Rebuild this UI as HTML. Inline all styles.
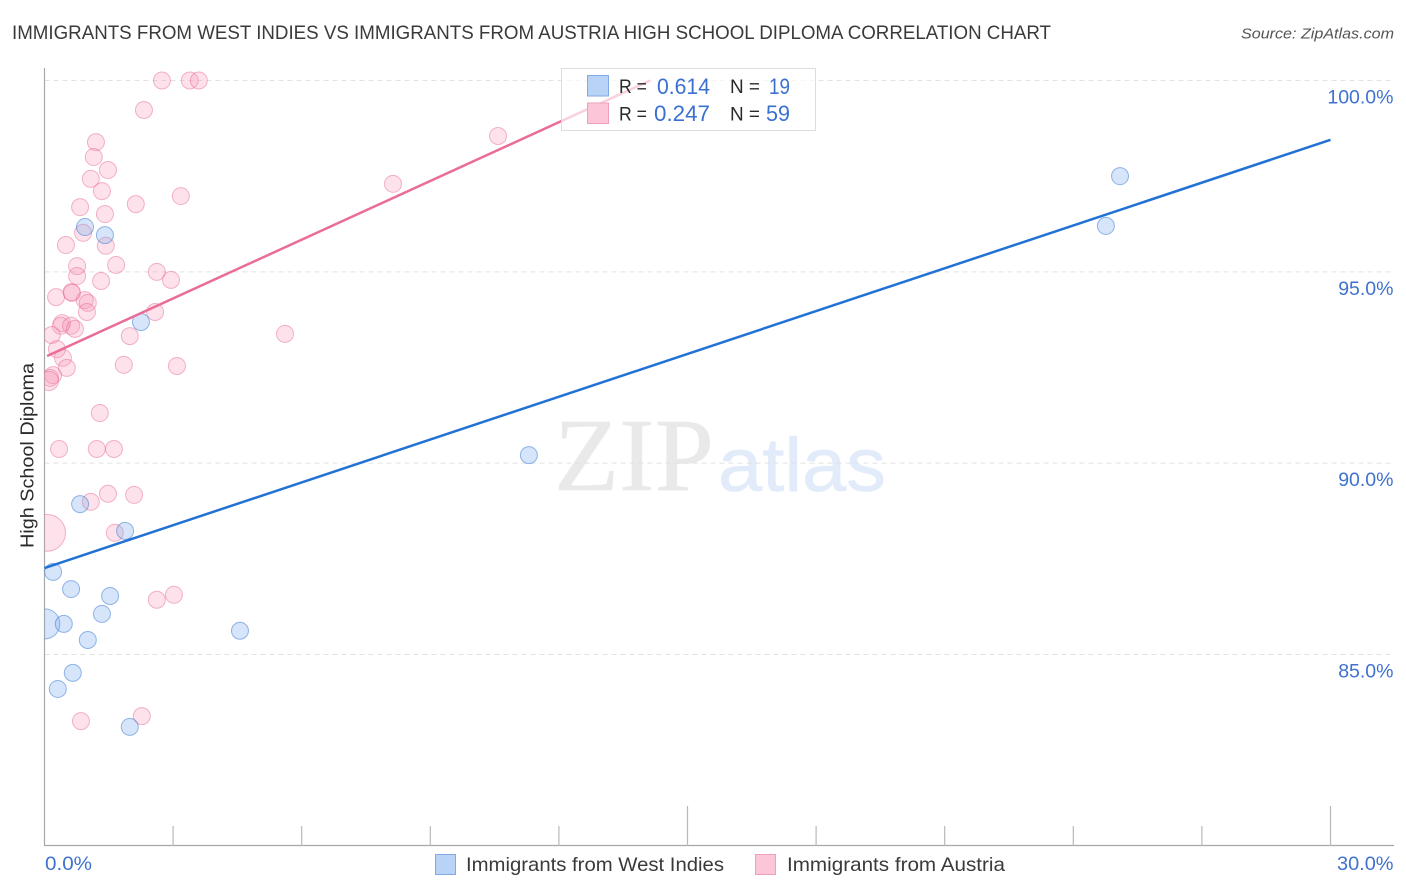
<!DOCTYPE html>
<html lang="en">
<head>
<meta charset="utf-8">
<title>Immigrants from West Indies vs Immigrants from Austria High School Diploma Correlation Chart</title>
<style>
html,body{margin:0;padding:0;background:#fff;width:1406px;height:892px;overflow:hidden}
svg{display:block}
text{font-family:"Liberation Sans",sans-serif}
</style>
</head>
<body>
<svg id="chart" width="1406" height="892" viewBox="0 0 1406 892" xmlns="http://www.w3.org/2000/svg">
  <defs>
    <clipPath id="plot-clip"><rect x="44.5" y="60" width="1350" height="786"></rect></clipPath>
  </defs>
  <rect x="0" y="0" width="1406" height="892" fill="#ffffff"></rect>
  <text x="12" y="39" font-size="19" fill="#3a3a3a" textLength="1039" lengthAdjust="spacingAndGlyphs">IMMIGRANTS FROM WEST INDIES VS IMMIGRANTS FROM AUSTRIA HIGH SCHOOL DIPLOMA CORRELATION CHART</text>
  <text x="1241" y="38.5" font-size="15" font-style="italic" fill="#555555" textLength="153" lengthAdjust="spacingAndGlyphs">Source: ZipAtlas.com</text>

  <g>
    <text x="554" y="490" font-size="104" fill="#e9e9e9" stroke="#e9e9e9" stroke-width="0.5" textLength="160" lengthAdjust="spacingAndGlyphs" style="font-family:'Liberation Serif',serif">ZIP</text>
    <text x="718" y="491" font-size="76" fill="#e2ebfa" stroke="#e2ebfa" stroke-width="0.6" textLength="168" lengthAdjust="spacingAndGlyphs">atlas</text>
  </g>

  <g id="grid"></g>
  <g id="axes"></g>
  <g id="points" clip-path="url(#plot-clip)"></g>
  <g id="trends"></g>
  <g id="tick-labels"></g>

  <text transform="translate(33.5,548) rotate(-90)" font-size="18.5" fill="#2a2a2a" textLength="185" lengthAdjust="spacingAndGlyphs">High School Diploma</text>

  <g>
    <rect x="561.5" y="68.5" width="254" height="62" fill="#ffffff" fill-opacity="0.68" stroke="#dddddd" stroke-width="1"></rect>
    <rect x="587.5" y="75.5" width="21" height="20.5" fill="#b9d3f6" stroke="#82aae6" stroke-width="1"></rect>
    <rect x="587.5" y="103" width="21" height="20.5" fill="#fcc6d8" stroke="#f2a0ba" stroke-width="1"></rect>
    <text x="619" y="93" font-size="19" fill="#2a2a2a" textLength="28" lengthAdjust="spacingAndGlyphs">R =</text>
    <text x="657" y="94" font-size="22" fill="#3a70cf" textLength="53" lengthAdjust="spacingAndGlyphs">0.614</text>
    <text x="730" y="93" font-size="19" fill="#2a2a2a" textLength="30" lengthAdjust="spacingAndGlyphs">N =</text>
    <text x="769" y="94" font-size="22" fill="#3a70cf" textLength="21" lengthAdjust="spacingAndGlyphs">19</text>
    <text x="619" y="120.5" font-size="19" fill="#2a2a2a" textLength="28" lengthAdjust="spacingAndGlyphs">R =</text>
    <text x="654" y="121" font-size="22" fill="#3a70cf" textLength="56" lengthAdjust="spacingAndGlyphs">0.247</text>
    <text x="730" y="120.5" font-size="19" fill="#2a2a2a" textLength="30" lengthAdjust="spacingAndGlyphs">N =</text>
    <text x="766" y="121" font-size="22" fill="#3a70cf" textLength="24" lengthAdjust="spacingAndGlyphs">59</text>
  </g>

  <g>
    <rect x="435.5" y="854.5" width="20" height="20" fill="#b9d3f6" stroke="#82aae6" stroke-width="1"></rect>
    <text x="466" y="871" font-size="19.5" fill="#3a3a3a" textLength="258" lengthAdjust="spacingAndGlyphs">Immigrants from West Indies</text>
    <rect x="755.5" y="854.5" width="20" height="20" fill="#fcc6d8" stroke="#f2a0ba" stroke-width="1"></rect>
    <text x="787" y="871" font-size="19.5" fill="#3a3a3a" textLength="218" lengthAdjust="spacingAndGlyphs">Immigrants from Austria</text>
  </g>
</svg>

<script>
const westIndiesX = [25.09,24.76,11.30,2.25,0.945,1.41,0.83,1.88,0.20,0.62,1.53,1.34,0.01,0.45,1.01,4.56,0.66,0.31,1.99];
const westIndiesY = [97.50,96.20,90.21,93.69,96.17,95.96,88.93,88.23,87.16,86.71,86.53,86.06,85.80,85.80,85.38,85.62,84.52,84.10,83.11];
const westIndiesLargeSamples = {12: 3.1};

const austriaX = [2.74,3.39,3.60,2.32,1.20,1.15,1.48,1.08,1.34,3.18,2.13,0.83,1.41,0.90,0.50,1.43,1.67,0.76,0.76,2.62,2.95,1.32,0.63,0.64,0.27,0.94,1.01,0.99,2.58,0.41,0.38,0.62,0.71,0.17,1.99,5.61,0.29,0.43,1.85,3.09,0.52,0.20,0.13,0.10,1.29,0.34,1.22,1.62,1.48,2.09,1.08,1.64,0.06,2.62,3.02,0.85,2.27,8.13,10.58];
const austriaY = [100,100,100,99.23,98.39,98.00,97.66,97.43,97.11,96.98,96.77,96.69,96.51,96.02,95.70,95.68,95.18,95.15,94.89,95.00,94.79,94.76,94.47,94.45,94.34,94.26,94.19,93.95,93.95,93.66,93.59,93.59,93.51,93.35,93.32,93.38,92.98,92.75,92.57,92.54,92.49,92.30,92.23,92.15,91.31,90.37,90.37,90.37,89.20,89.17,88.99,88.18,88.18,86.43,86.56,83.26,83.39,97.30,98.55];
const austriaLargeSamples = {43: 1.3, 52: 4.7};

const westIndiesTrendX = [0, 30];
const westIndiesTrendY = [87.26, 98.45];
const austriaTrendX = [0.06, 14.13];
const austriaTrendY = [92.80, 100];

const yTicks = [100, 95, 90, 85];
const yTickLabels = ['100.0%', '95.0%', '90.0%', '85.0%'];
const xMinorTicks = [3, 6, 9, 12, 18, 21, 24, 27];
const xMajorTicks = [15, 30];
const xEdgeLabels = ['0.0%', '30.0%'];

const SVG_NS = 'http://www.w3.org/2000/svg';
function xScale(v) { return 44.5 + (v / 30) * 1286; }
function yScale(v) { return 80.5 + ((100 - v) / 15) * 574; }
function make(tag, parent, attrs) {
  const el = document.createElementNS(SVG_NS, tag);
  Object.keys(attrs).forEach(function (k) { el.setAttribute(k, attrs[k]); });
  parent.appendChild(el);
  return el;
}

const grid = document.getElementById('grid');
const axes = document.getElementById('axes');
const pointsLayer = document.getElementById('points');
const trends = document.getElementById('trends');
const labels = document.getElementById('tick-labels');

yTicks.forEach(function (t, i) {
  const line = make('line', grid, {x1: 44.5, x2: 1393, y1: yScale(t), y2: yScale(t), stroke: '#e2e2e2', 'stroke-width': 1, 'stroke-dasharray': '5 4'});
  
  
  const label = make('text', labels, {x: 1393.5, y: yScale(t) + 23, 'text-anchor': 'end', 'font-size': 19.5, fill: '#3f72cf'});
  label.textContent = yTickLabels[i];
  
  
});

const yAxis = make('line', axes, {x1: 44.5, x2: 44.5, y1: 68, y2: 846, stroke: '#a8a8a8', 'stroke-width': 1.2});


const xAxis = make('line', axes, {x1: 44, x2: 1394, y1: 845.5, y2: 845.5, stroke: '#a8a8a8', 'stroke-width': 1.2});



xMinorTicks.forEach(function (t) {
  const tick = make('line', axes, {x1: xScale(t), x2: xScale(t), y1: 826, y2: 846, stroke: '#b8b8b8', 'stroke-width': 1.2});
  
  
});
xMajorTicks.forEach(function (t) {
  const tick = make('line', axes, {x1: xScale(t), x2: xScale(t), y1: 806, y2: 846, stroke: '#b8b8b8', 'stroke-width': 1.2});
  
  
});

const xLabelLeft = make('text', labels, {x: 45, y: 870, 'font-size': 19.5, fill: '#3f72cf', textLength: 47, lengthAdjust: 'spacingAndGlyphs'});
xLabelLeft.textContent = xEdgeLabels[0];


const xLabelRight = make('text', labels, {x: 1337, y: 870, 'font-size': 19.5, fill: '#3f72cf', textLength: 56.5, lengthAdjust: 'spacingAndGlyphs'});
xLabelRight.textContent = xEdgeLabels[1];



function drawSeries(xs, ys, largeSamples, fill, stroke, name) {
  xs.forEach(function (x, i) {
    const weight = largeSamples[i] || 1;
    const dot = make('circle', pointsLayer, {cx: xScale(x), cy: yScale(ys[i]), r: 8.5 * Math.sqrt(weight), fill: fill, stroke: stroke, 'stroke-width': 1});
    
    
  });
}
drawSeries(austriaX, austriaY, austriaLargeSamples, 'rgba(248,150,182,0.28)', 'rgba(232,110,150,0.5)', 'austria-point');
drawSeries(westIndiesX, westIndiesY, westIndiesLargeSamples, 'rgba(120,170,235,0.3)', 'rgba(50,115,210,0.5)', 'west-indies-point');

const austriaTrend = make('line', trends, {x1: xScale(austriaTrendX[0]), y1: yScale(austriaTrendY[0]), x2: xScale(austriaTrendX[1]), y2: yScale(austriaTrendY[1]), stroke: '#ea6c98', 'stroke-width': 2.5});


const westIndiesTrend = make('line', trends, {x1: xScale(westIndiesTrendX[0]), y1: yScale(westIndiesTrendY[0]), x2: xScale(westIndiesTrendX[1]), y2: yScale(westIndiesTrendY[1]), stroke: '#2272d6', 'stroke-width': 2.5});


</script>
</body>
</html>
